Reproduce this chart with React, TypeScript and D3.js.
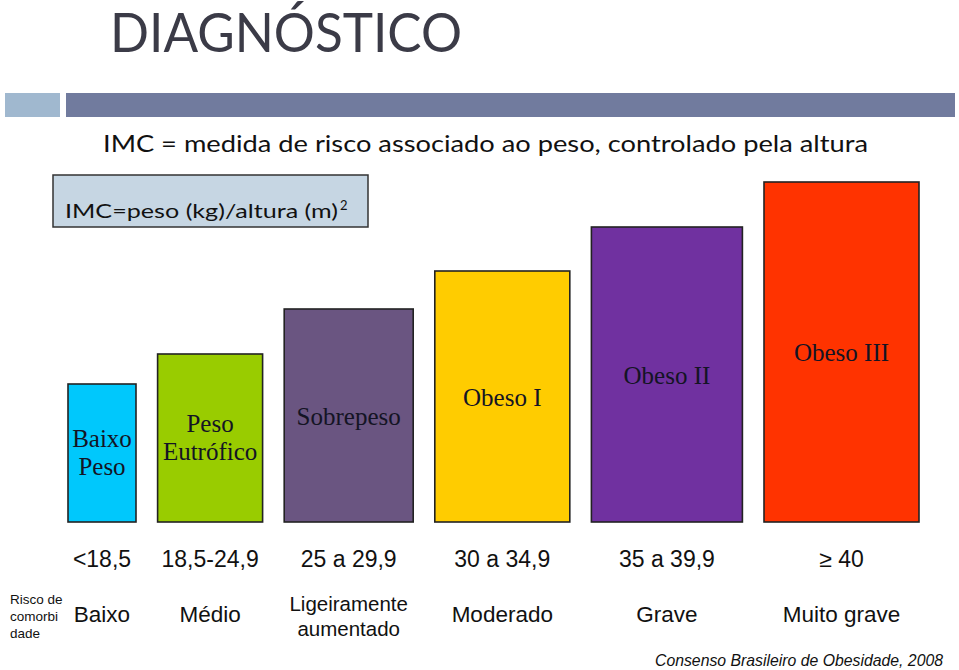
import React from "react";
import * as d3 from "d3";

const categories: string[][] = [
  ["Baixo", "Peso"],
  ["Peso", "Eutrófico"],
  ["Sobrepeso"],
  ["Obeso I"],
  ["Obeso II"],
  ["Obeso III"],
];
const riskLevel: number[] = [138, 168, 213, 251, 295, 340];
const widthUnits: number[] = [68, 105, 129, 135, 151, 155];
const colors: string[] = ["#00c8fc", "#99cc00", "#6a5581", "#ffcc00", "#7031a0", "#ff3300"];
const imcRanges: string[] = ["<18,5", "18,5-24,9", "25 a 29,9", "30 a 34,9", "35 a 39,9", "≥ 40"];
const comorbidityRisk: string[][] = [
  ["Baixo"],
  ["Médio"],
  ["Ligeiramente", "aumentado"],
  ["Moderado"],
  ["Grave"],
  ["Muito grave"],
];

const W = 959;
const H = 670;

export default function App() {
  const left = 68;
  const right = 919;
  const gap = 21.6;
  const total = d3.sum(widthUnits);
  const wScale = d3.scaleLinear().domain([0, total]).range([0, right - left - gap * (widthUnits.length - 1)]);
  const cum = d3.cumsum(widthUnits);
  const bars = widthUnits.map((w, i) => {
    const start = i === 0 ? 0 : cum[i - 1];
    const x0 = left + wScale(start) + gap * i;
    const x1 = x0 + wScale(w);
    return { x0, x1, cx: (x0 + x1) / 2 };
  });
  const baseline = 522;
  const y = d3.scaleLinear().domain([0, 340]).range([baseline, 182]);

  const futura = "Lato, 'Open Sans', sans-serif";
  const arial = "'Liberation Sans', Arial, sans-serif";
  const times = "'Liberation Serif', 'Times New Roman', serif";

  return (
    <svg width={W} height={H} style={{ position: "absolute", left: 0, top: 0, background: "#fff" }}>
      <rect x={0} y={0} width={W} height={H} fill="#fff" />
      {/* Title */}
      <text x={110} y={52} fontFamily={futura} fontSize={54} fill="#3b3b47" textLength={352} lengthAdjust="spacingAndGlyphs">
        DIAGNÓSTICO
      </text>
      {/* header bands */}
      <rect x={5} y={93} width={55} height={24} fill="#a0b8cf" />
      <rect x={66} y={93} width={889} height={24} fill="#717b9e" />
      {/* subtitle */}
      <text x={103} y={152} fontFamily={futura} fontSize={24} fill="#111" textLength={765} lengthAdjust="spacingAndGlyphs">
        IMC = medida de risco associado ao peso, controlado pela altura
      </text>
      {/* formula box */}
      <rect x={53} y={175} width={315} height={52} fill="#c6d6e3" stroke="#333" strokeWidth={1.5} />
      <text x={65} y={218} fontFamily={futura} fontSize={19} fill="#111">
        <tspan textLength={273} lengthAdjust="spacingAndGlyphs">IMC=peso (kg)/altura (m)</tspan>
        <tspan dx={2} dy={-8} fontSize={13}>2</tspan>
      </text>

      {/* bars */}
      {bars.map((b, i) => (
        <g key={i}>
          <rect
            x={b.x0}
            y={y(riskLevel[i])}
            width={b.x1 - b.x0}
            height={baseline - y(riskLevel[i])}
            fill={colors[i]}
            stroke="#222"
            strokeWidth={1.6}
          />
          {(() => {
            const lines = categories[i];
            const mid = (y(riskLevel[i]) + baseline) / 2;
            const lh = 28;
            const firstBase = lines.length > 1 ? mid + 8 - ((lines.length - 1) * lh) / 2 : mid + 9;
            return (
              <text textAnchor="middle" fontFamily={times} fontSize={25} fill="#141424">
                {lines.map((l, j) => (
                  <tspan key={j} x={b.cx} y={firstBase + j * lh}>
                    {l}
                  </tspan>
                ))}
              </text>
            );
          })()}
          <text x={b.cx} y={567} textAnchor="middle" fontFamily={arial} fontSize={23} fill="#111">
            {imcRanges[i]}
          </text>
          <text textAnchor="middle" fontFamily={arial} fontSize={comorbidityRisk[i].length > 1 ? 20.5 : 22.5} fill="#111">
            {comorbidityRisk[i].map((l, j, arr) => (
              <tspan key={j} x={b.cx} y={arr.length > 1 ? 611 + j * 25 : 622}>
                {l}
              </tspan>
            ))}
          </text>
        </g>
      ))}

      {/* row header */}
      <text fontFamily={arial} fontSize={13.5} fill="#111">
        <tspan x={10} y={604}>Risco de</tspan>
        <tspan x={10} y={621}>comorbi</tspan>
        <tspan x={10} y={638}>dade</tspan>
      </text>

      {/* source */}
      <text x={655} y={666} fontFamily={arial} fontStyle="italic" fontSize={16.5} fill="#111" textLength={288} lengthAdjust="spacingAndGlyphs">
        Consenso Brasileiro de Obesidade, 2008
      </text>
    </svg>
  );
}
